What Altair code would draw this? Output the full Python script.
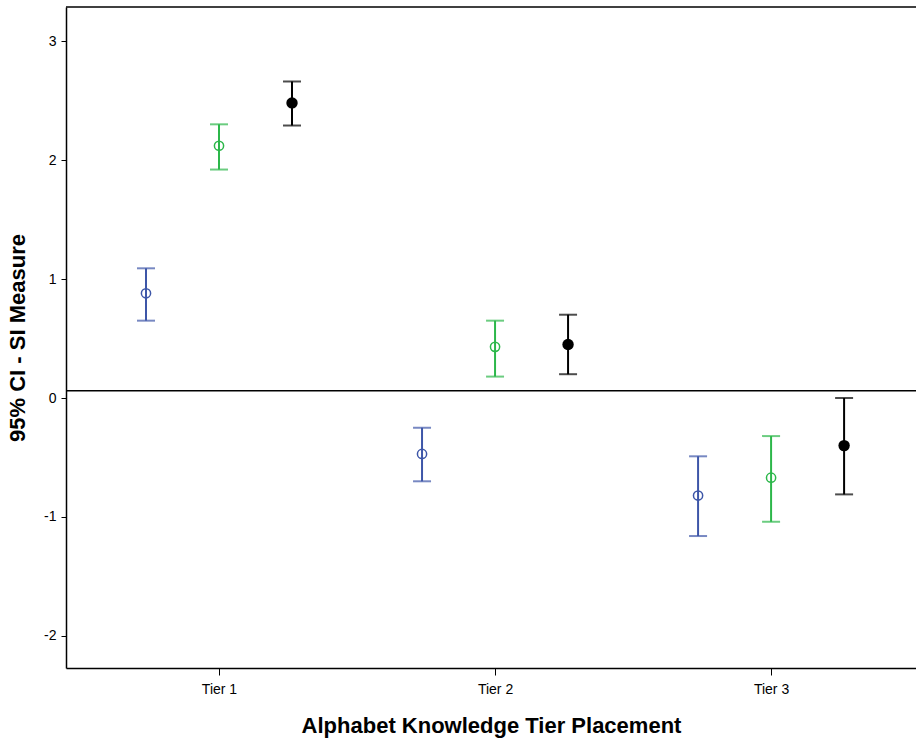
import altair as alt
import pandas as pd

tiers = [1, 2, 3]
tier_labels = ["Tier 1", "Tier 2", "Tier 3"]
groups = ["A", "B", "C"]
group_index = [0, 1, 2]
# means and CI per group (rows) per tier (columns)
means = {
    "A": [0.88, -0.47, -0.82],
    "B": [2.12, 0.43, -0.67],
    "C": [2.48, 0.45, -0.40],
}
lower = {
    "A": [0.65, -0.70, -1.16],
    "B": [1.92, 0.18, -1.04],
    "C": [2.29, 0.20, -0.81],
}
upper = {
    "A": [1.09, -0.25, -0.49],
    "B": [2.30, 0.65, -0.32],
    "C": [2.66, 0.70, 0.00],
}
ref_value = [0.06]
colors = ["#3D56A8", "#2CB74A", "#000000"]

rows = []
for g, gi in zip(groups, group_index):
    for i, t in enumerate(tiers):
        rows.append({"tier": t, "group": g, "gi": gi,
                     "mean": means[g][i], "lo": lower[g][i], "hi": upper[g][i]})
df = pd.DataFrame(rows)

W, H = 850, 661
xscale = alt.Scale(domain=[0.4457, 3.525], nice=False, zero=False)
yscale = alt.Scale(domain=[-2.269, 3.286], nice=False, zero=False)
color = alt.Color("group:N", scale=alt.Scale(domain=groups, range=colors), legend=None)

base = alt.Chart(df).transform_calculate(xpos="datum.tier + (datum.gi - 1) * 0.2645")

x_enc = alt.X("xpos:Q", scale=xscale, axis=alt.Axis(
    values=tiers, labelExpr="'Tier ' + datum.value", title="Alphabet Knowledge Tier Placement",
    grid=False, tickSize=7, tickColor="black", domainColor="black", domainWidth=1.5,
    labelFontSize=14, labelFont="Liberation Sans", labelColor="black", labelPadding=7,
    titleFontSize=22, titleFont="Liberation Sans", titleFontWeight="bold", titleColor="black",
    titlePadding=19))
y_axis = alt.Axis(values=[-2, -1, 0, 1, 2, 3], labelExpr="'' + datum.value", title="95% CI - SI Measure", grid=False,
    tickSize=5, tickColor="black", domainColor="black", domainWidth=1.5,
    labelFontSize=14, labelFont="Liberation Sans", labelColor="black", labelPadding=5,
    titleFontSize=22, titleFont="Liberation Sans", titleFontWeight="bold", titleColor="black",
    titlePadding=14)

bars = base.mark_rule(strokeWidth=2).encode(
    x=x_enc, y=alt.Y("lo:Q", scale=yscale, axis=y_axis), y2="hi:Q", color=color)
caps_lo = base.mark_tick(orient="horizontal", size=18, thickness=2).encode(
    x=alt.X("xpos:Q", scale=xscale), y=alt.Y("lo:Q", scale=yscale), color=color)
caps_hi = base.mark_tick(orient="horizontal", size=18, thickness=2).encode(
    x=alt.X("xpos:Q", scale=xscale), y=alt.Y("hi:Q", scale=yscale), color=color)
open_pts = base.transform_filter("datum.group != 'C'").mark_point(
    shape="circle", filled=False, size=85, strokeWidth=1.5, opacity=1).encode(
    x=alt.X("xpos:Q", scale=xscale), y=alt.Y("mean:Q", scale=yscale), color=color)
filled_pts = base.transform_filter("datum.group == 'C'").mark_point(
    shape="circle", filled=True, size=130, opacity=1).encode(
    x=alt.X("xpos:Q", scale=xscale), y=alt.Y("mean:Q", scale=yscale), color=color)

ref = alt.Chart(pd.DataFrame({"v": ref_value})).mark_rule(color="black", strokeWidth=1.5).encode(
    y=alt.Y("v:Q", scale=yscale))
top = alt.Chart(pd.DataFrame({"v": ref_value})).mark_rule(color="black", strokeWidth=1.5).encode(
    x=alt.value(0), x2=alt.value(W), y=alt.value(0))

chart = alt.layer(ref, top, bars, caps_lo, caps_hi, open_pts, filled_pts).properties(
    width=W, height=H, autosize=alt.AutoSizeParams(type="none"),
    padding={"left": 66, "top": 7, "right": 0, "bottom": 74},
    background="white"
).configure_view(stroke=None)

chart.save("out.html", embed_options={"renderer": "svg", "actions": False})
